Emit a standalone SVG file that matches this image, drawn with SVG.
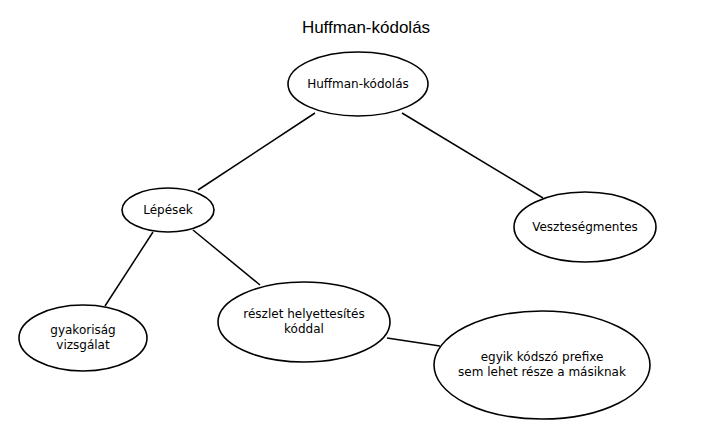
<svg xmlns="http://www.w3.org/2000/svg" width="710" height="442" viewBox="0 0 710 442">
<style>
.n ellipse{fill:#fff;stroke:#000;stroke-width:1.6}
.n text{font-family:"DejaVu Sans",sans-serif;font-size:12px;text-anchor:middle;fill:#000}
.e line{stroke:#000;stroke-width:1.5}
.t{font-family:"Liberation Sans",Arial,sans-serif;font-size:17px;text-anchor:middle;fill:#000}
</style>
<rect width="710" height="442" fill="#fff"/>
<text class="t" x="366" y="33">Huffman-kódolás</text>
<g class="e">
<line x1="315" y1="113" x2="198" y2="190"/>
<line x1="402" y1="113" x2="543" y2="198"/>
<line x1="153" y1="232" x2="105" y2="306"/>
<line x1="193" y1="230" x2="260" y2="285"/>
<line x1="387" y1="338" x2="440" y2="346"/>
</g>
<g class="n" id="n-huffman"><ellipse cx="358" cy="84" rx="70" ry="32"/><text x="358" y="88">Huffman-kódolás</text></g>
<g class="n" id="n-lepesek"><ellipse cx="168" cy="210" rx="46" ry="22"/><text x="168" y="214">Lépések</text></g>
<g class="n" id="n-vesz"><ellipse cx="585" cy="227" rx="71" ry="35"/><text x="585" y="231">Veszteségmentes</text></g>
<g class="n" id="n-gyak"><ellipse cx="83" cy="338" rx="64" ry="33"/><text x="83" y="334">gyakoriság</text><text x="83" y="349">vizsgálat</text></g>
<g class="n" id="n-reszlet"><ellipse cx="304" cy="322" rx="86" ry="40"/><text x="304" y="318">részlet helyettesítés</text><text x="304" y="333">kóddal</text></g>
<g class="n" id="n-egyik"><ellipse cx="542" cy="365" rx="108" ry="54"/><text x="542" y="361">egyik kódszó prefixe</text><text x="542" y="376">sem lehet része a másiknak</text></g>
</svg>
